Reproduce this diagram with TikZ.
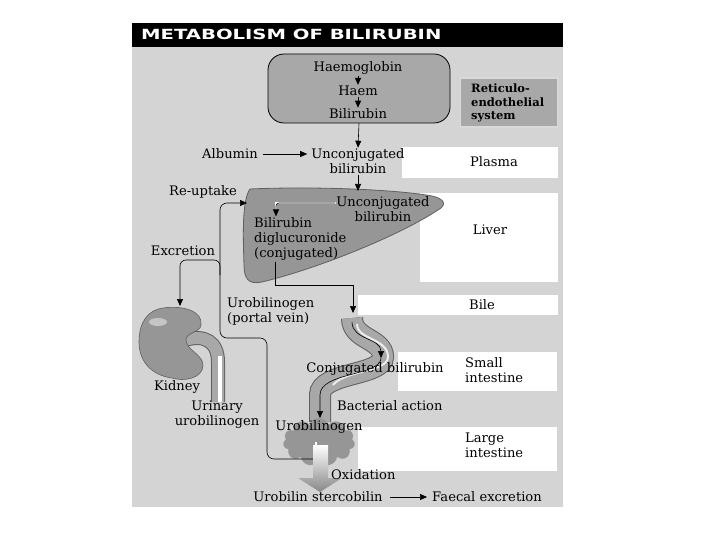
\documentclass[tikz,border=0pt]{standalone}
\usepackage{fontspec}
\setmainfont{DejaVu Serif}
\newfontfamily\titlefont{DejaVu Sans}
\usetikzlibrary{arrows.meta,shapes.symbols}
\definecolor{paper}{RGB}{212,212,212}
\definecolor{organ}{RGB}{150,150,150}
\definecolor{organdark}{RGB}{95,95,95}
\definecolor{tube}{RGB}{168,168,168}
\definecolor{rebox}{RGB}{168,168,168}
\newcommand\gutpath{(352,318) .. controls (352,340) and (383,338) .. (383,357) .. controls (383,376) and (320,372) .. (320,395) -- (320,422)}

\begin{document}
\begin{tikzpicture}[x=1pt, y=-1pt,
  every node/.style={font=\fontsize{13.1}{15}\selectfont, inner sep=1pt, align=center},
  arr/.style={-{Triangle[length=7pt,width=6pt]}, line width=0.6pt},
  tag/.style={align=left, anchor=west},
  zone/.style={fill=white}]
  \useasboundingbox (0,0) rectangle (720,540);
  % paper and title bar
  \fill[paper] (132,47) rectangle (563,507);
  \fill[black] (132,23) rectangle (563,47);
  \node[anchor=west, text=white, font=\titlefont\bfseries\fontsize{14}{16}\selectfont] (title) at (140,34) {\scalebox{1.4}[1]{METABOLISM OF BILIRUBIN}};
  % white zones on the right
  \fill[zone] (402,147) rectangle (558,178);
  \fill[zone] (420,193) rectangle (558,282);
  \fill[zone] (358,295) rectangle (558,315);
  \fill[zone] (398,352) rectangle (557,391);
  \fill[zone] (358,427) rectangle (557,471);
  \node (plasma) at (494,162) {Plasma};
  \node (liverlbl) at (490,230) {Liver};
  \node (bilelbl) at (482,305) {Bile};
  \node[tag] (smallint) at (464,370) {Small\\intestine};
  \node[tag] (largeint) at (464,445) {Large\\intestine};
  % reticulo-endothelial system
  \node[draw, rounded corners=16pt, fill=rebox, line width=0.8pt, minimum width=182pt, minimum height=69pt] (res) at (359,88.5) {};
  \node (hb) at (358,68) {Haemoglobin};
  \node (haem) at (358,91) {Haem};
  \node (bil) at (358,114) {Bilirubin};
  \draw[arr, line width=1pt] (hb) -- (haem);
  \draw[arr, line width=1pt] (haem) -- (bil);
  \node[draw=white!85!black, line width=1.5pt, fill=rebox, minimum width=97pt, minimum height=49pt] (resbox) at (509,102.5) {};
  \node[tag, font=\bfseries\fontsize{11.5}{13.5}\selectfont] (reslbl) at (470,103) {Reticulo-\\endothelial\\system};
  % plasma
  \node (ucb) at (358,161.5) {Unconjugated\\bilirubin};
  \node (alb) at (230,154) {Albumin};
  \draw[arr] (res.south) -- (ucb.north);
  \draw[arr] ([xshift=4pt]alb.east) -- ([xshift=-3pt]alb.east -| ucb.west);
  % liver
  \fill[organ, draw=organdark, line width=0.8pt] (250,189) .. controls (320,186) and (400,190) .. (432,196)
    .. controls (445,199) and (447,205) .. (438,210) .. controls (400,235) and (320,268) .. (262,282)
    .. controls (248,285) and (244,278) .. (244,265) .. controls (243,235) and (242,200) .. (250,189) -- cycle;
  \coordinate (livtop) at (358,191);
  \coordinate (ru) at (247,203);
  \draw[arr] (ucb.south) -- (livtop);
  \node (luc) at (383,209) {Unconjugated\\bilirubin};
  \node[tag] (bdg) at (253,239) {Bilirubin\\diglucuronide\\(conjugated)};
  \draw[white, line width=2.5pt, line cap=round] ([yshift=6pt]luc.west) -| ([xshift=23pt,yshift=3pt]bdg.north west);
  \draw[arr, rounded corners=3pt] ([yshift=6pt]luc.west) -| ([xshift=23pt]bdg.north west);
  % bile to intestine
  \coordinate (sitop) at (353,313);
  \draw[arr] ([xshift=22pt]bdg.south west) -- ++(0,24) -| (sitop);
  \node[tag] (uroport) at (226,311.5) {Urobilinogen\\(portal vein)};
  % intestine tube
  \draw[organdark, line width=22pt] \gutpath;
  \draw[tube, line width=20pt] \gutpath;
  \draw[white, opacity=0.8, line width=2pt, xshift=5pt] (352,324) .. controls (352,340) and (383,338) .. (383,357) .. controls (383,372) and (340,370) .. (328,385);
  \draw[arr] (352,322) .. controls (352,340) and (381,338) .. (381,358);
  \draw[arr] (381,358) .. controls (381,376) and (320,372) .. (320,395) -- (320,418);
  \node (cbil) at (375,369) {Conjugated bilirubin};
  \node[tag] (bact) at (336,406) {Bacterial action};
  % large intestine
  \node[cloud, cloud puffs=11, aspect=1.5, fill=organ, minimum width=72pt, minimum height=48pt] (colon) at (319,442) {};
  \node (urob) at (319,427) {Urobilinogen};
  \coordinate (pvin) at (316,442);
  % portal vein back to liver, and excretion to kidney
  \draw[white, line width=2.5pt] (pvin) -- ++(0,17);
  \draw[arr, rounded corners=7pt] (pvin) ++(0,17) -| (267,338) -| (220,203) -- (ru);
  \node (reup) at (203,192) {Re-uptake};
  \node (excr) at (183,251) {Excretion};
  \coordinate (kid) at (180,306);
  \draw[arr, rounded corners=6pt] (220,275) |- (180,260) -- (kid);
  % kidney and ureter
  \draw[organdark, line width=14pt] (185,340) .. controls (205,334) and (218,342) .. (218,362) -- (218,402);
  \draw[tube, line width=12pt] (185,340) .. controls (205,334) and (218,342) .. (218,362) -- (218,402);
  \draw[white, line width=3.5pt] (220,356) -- (220,402);
  \fill[organ, draw=organdark, line width=0.6pt]
    (163,308) .. controls (185,305) and (203,312) .. (201,325) .. controls (200,333) and (186,332) .. (186,340)
    .. controls (186,350) and (204,355) .. (203,366) .. controls (202,378) and (185,382) .. (172,378)
    .. controls (150,375) and (139,360) .. (139,342) .. controls (139,322) and (148,310) .. (163,308) -- cycle;
  \fill[white, opacity=0.45] (158,322) ellipse (9pt and 4pt);
  \node (kidney) at (177,387) {Kidney};
  \node (urinary) at (217,415) {Urinary\\urobilinogen};
  % oxidation arrow
  \shade[top color=white, bottom color=organ!90!black] (313,445) -- (328,445) -- (328,478) -- (342,478) -- (320,492) -- (298,478) -- (313,478) -- cycle;
  \node[tag] (oxid) at (330,475) {Oxidation};
  \node (ustb) at (318,497) {Urobilin stercobilin};
  \node (faecal) at (487,497) {Faecal excretion};
  \draw[arr] ([xshift=6pt]ustb.east) -- ([xshift=-4pt]faecal.west);
\end{tikzpicture}
\end{document}
